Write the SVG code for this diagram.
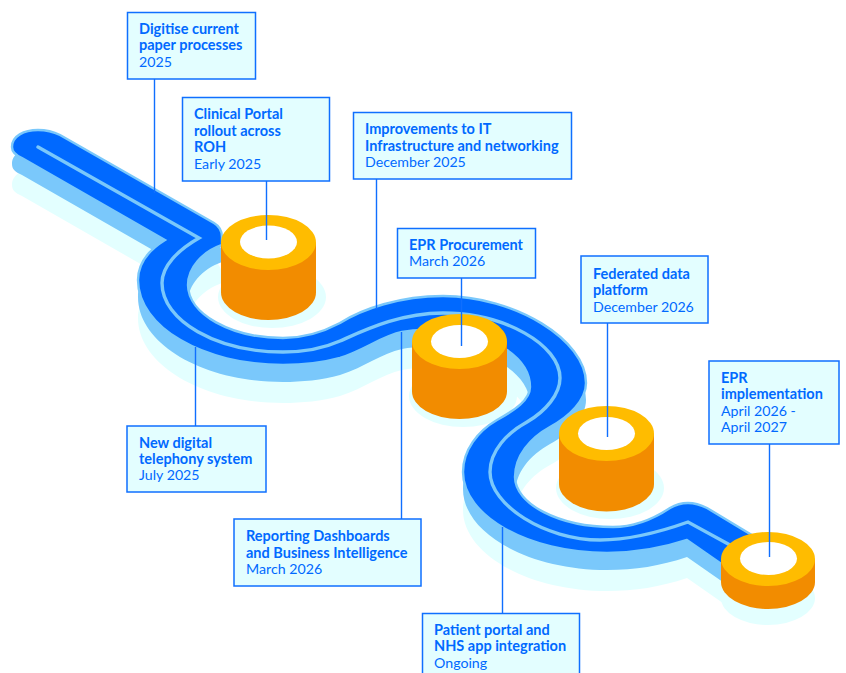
<svg xmlns="http://www.w3.org/2000/svg" xmlns:xlink="http://www.w3.org/1999/xlink" width="846" height="673" viewBox="0 0 846 673">
<style>
text{font-family:"Lato","Open Sans",sans-serif;font-size:14.2px;fill:#0069ff}
.b{font-weight:700;font-size:14.5px}
.box{fill:#e3feff;stroke:#0f6fff;stroke-width:1.5}
.con{stroke:#0f6fff;stroke-width:1.4;fill:none}
.side{fill:#f28c00}.top{fill:#ffbc00}.hole{fill:#fff}.halo{fill:#e3ffff}
</style>
<defs>
<path id="road" d="M12,147C12,136 24,130 38,130C47,130 54,132 60,135L214,223C219,226 222,231 222,237L222,245C202,252 188,268 188,285C188,314 231,338 283,338C305,338 325,331 340,323C362,309 400,296 443,296C515,296 586,340 586,383C586,400 570,416 550,427C530,438 515,456 515,477C515,504 559,527 613,527C635,527 655,518 670,508C675,505 681,503 688,503C695,503 701,505 707,508L760,540L730,570L687,540C660,549 635,553 607,553C528,553 463,516 463,472C463,450 478,431 497,420C515,410 530,400 530,387C530,372 520,359 507,350C480,335 435,326 402,332C382,336 365,350 340,358C322,363 302,365 283,365C203,365 138,327 138,280C138,264 149,250 165,240L22,158C15,155 12,152 12,147Z"/>
</defs>
<g id="road-base">
<use xlink:href="#road" href="#road" y="38" fill="#e3ffff"/>
<ellipse class="halo" cx="272" cy="297" rx="54" ry="31"/>
<ellipse class="halo" cx="463" cy="396" rx="54" ry="31"/>
<ellipse class="halo" cx="610" cy="488" rx="54" ry="31"/>
<ellipse class="halo" cx="768" cy="598" rx="47" ry="27"/>
<use xlink:href="#road" href="#road" y="17" fill="#7ac8fb"/>
<use xlink:href="#road" href="#road" fill="#0069ff" stroke="#7ac8fb" stroke-width="2.4"/>
<path d="M38,147L199,238C178,250 162,266 162,283C162,321 217,352 283,352C303,352 322,349 340,341C365,330 400,313 443,313C505,313 560,345 560,378C560,394 546,411 527,422C507,433 490,451 490,472C490,505 545,540 600,540C630,540 660,532 688,522L730,545" fill="none" stroke="#7ac8fb" stroke-width="3.4" stroke-linecap="round" stroke-linejoin="miter"/>
</g>
<g id="cyl-1"><path class="side" d="M221,242.500V292.500A47.500,27.500 0 0 0 316,292.500V242.500Z"/><ellipse class="top" cx="268.500" cy="242.500" rx="47.500" ry="27.500"/><ellipse class="hole" cx="268.500" cy="242" rx="28.500" ry="16.500"/></g>
<g id="cyl-2"><path class="side" d="M412,341.500V391.500A47.500,27.500 0 0 0 507,391.500V341.500Z"/><ellipse class="top" cx="459.500" cy="341.500" rx="47.500" ry="27.500"/><ellipse class="hole" cx="459.500" cy="341.500" rx="28.500" ry="16.500"/></g>
<g id="cyl-3"><path class="side" d="M559,433.500V484A47.500,27.500 0 0 0 654,484V433.500Z"/><ellipse class="top" cx="606.500" cy="433.500" rx="47.500" ry="27.500"/><ellipse class="hole" cx="606.500" cy="433.500" rx="28.500" ry="16.500"/></g>
<g id="cyl-4"><path class="side" d="M721,559V582A47,27 0 0 0 815,582V559Z"/><ellipse class="top" cx="768" cy="559" rx="47" ry="27"/><ellipse class="hole" cx="768.500" cy="558.500" rx="28.500" ry="16.500"/></g>
<g id="connectors">
<path class="con" d="M154.500,79V193M266.500,181V240M376.500,179V309M461.500,278V346M607.500,323V437M769.500,444V557M195.500,347V426M401.500,332V519M502.500,527V613"/>
</g>
<g id="n1"><rect class="box" x="127.500" y="12.500" width="128" height="66.500"/><text class="b" x="139" y="34">Digitise current</text><text class="b" x="139" y="50">paper processes</text><text x="139" y="67">2025</text></g>
<g id="n2"><rect class="box" x="182.500" y="97.500" width="147" height="83.500"/><text class="b" x="194" y="119">Clinical Portal</text><text class="b" x="194" y="136">rollout across</text><text class="b" x="194" y="152">ROH</text><text x="194" y="169">Early 2025</text></g>
<g id="n3"><rect class="box" x="353.500" y="112.500" width="218" height="66.500"/><text class="b" x="365" y="134">Improvements to IT</text><text class="b" x="365" y="151">Infrastructure and networking</text><text x="365" y="167">December 2025</text></g>
<g id="n4"><rect class="box" x="397.500" y="228.500" width="138" height="49.500"/><text class="b" x="409" y="250">EPR Procurement</text><text x="409" y="266">March 2026</text></g>
<g id="n5"><rect class="box" x="581" y="256" width="127" height="67"/><text class="b" x="593" y="279">Federated data</text><text class="b" x="593" y="295">platform</text><text x="593" y="312">December 2026</text></g>
<g id="n6"><rect class="box" x="709" y="361" width="130" height="83"/><text class="b" x="721" y="383">EPR</text><text class="b" x="721" y="399">implementation</text><text x="721" y="416">April 2026 -</text><text x="721" y="432">April 2027</text></g>
<g id="n7"><rect class="box" x="127" y="426" width="139" height="66"/><text class="b" x="139" y="448">New digital</text><text class="b" x="139" y="464">telephony system</text><text x="139" y="480">July 2025</text></g>
<g id="n8"><rect class="box" x="234" y="519" width="187" height="67"/><text class="b" x="246" y="541">Reporting Dashboards</text><text class="b" x="246" y="558">and Business Intelligence</text><text x="246" y="574">March 2026</text></g>
<g id="n9"><rect class="box" x="422.500" y="613.500" width="157" height="70"/><text class="b" x="434" y="635">Patient portal and</text><text class="b" x="434" y="651">NHS app integration</text><text x="434" y="668">Ongoing</text></g>
</svg>
